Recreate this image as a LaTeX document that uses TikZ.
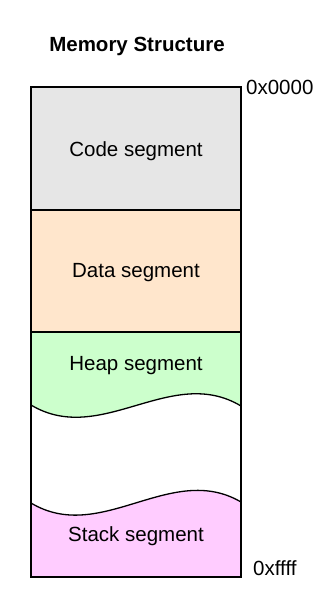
\documentclass[tikz,border=0pt]{standalone}
\usepackage{fontspec}
\setmainfont{Liberation Sans}
\begin{document}
\begin{tikzpicture}[x=1pt,y=-1pt,
  seg/.style={draw=black,line width=1.3pt},
  lbl/.style={font=\fontsize{20.5}{24}\selectfont,inner sep=0pt},
  addr/.style={font=\fontsize{20.5}{24}\selectfont,inner sep=0pt,anchor=base west}]
\useasboundingbox (0,0) rectangle (326,602);
\definecolor{codec}{HTML}{E6E6E6}
\definecolor{datac}{HTML}{FFE6CC}
\definecolor{heapc}{HTML}{CCFFCC}
\definecolor{stackc}{HTML}{FFCCFF}
% fills
\fill[codec] (31,87) rectangle (241,210);
\fill[datac] (31,210) rectangle (241,332);
\fill[heapc] (31,332) -- (241,332) -- (241,406) .. controls (171,364) and (101,447) .. (31,405) -- cycle;
\fill[stackc] (31,503) .. controls (101,545) and (171,461) .. (241,502) -- (241,577) -- (31,577) -- cycle;
% lines
\draw[seg] (31,210) -- (241,210);
\draw[seg] (31,332) -- (241,332);
\draw[seg] (31,405) .. controls (101,447) and (171,364) .. (241,406);
\draw[seg] (31,503) .. controls (101,545) and (171,461) .. (241,502);
\draw[seg] (31,87) rectangle (241,577);
% labels
\node[lbl,font=\fontsize{20.5}{24}\selectfont\bfseries] (title) at (137,46) {Memory Structure};
\node[lbl] (code) at (136,151) {Code segment};
\node[lbl] (data) at (136,273) {Data segment};
\node[lbl] (heap) at (136,366) {Heap segment};
\node[lbl] (stack) at (136,536) {Stack segment};
\node[addr] (top) at (246,94) {0x0000};
\node[addr] (bot) at (253,575) {0xffff};
\end{tikzpicture}
\end{document}
